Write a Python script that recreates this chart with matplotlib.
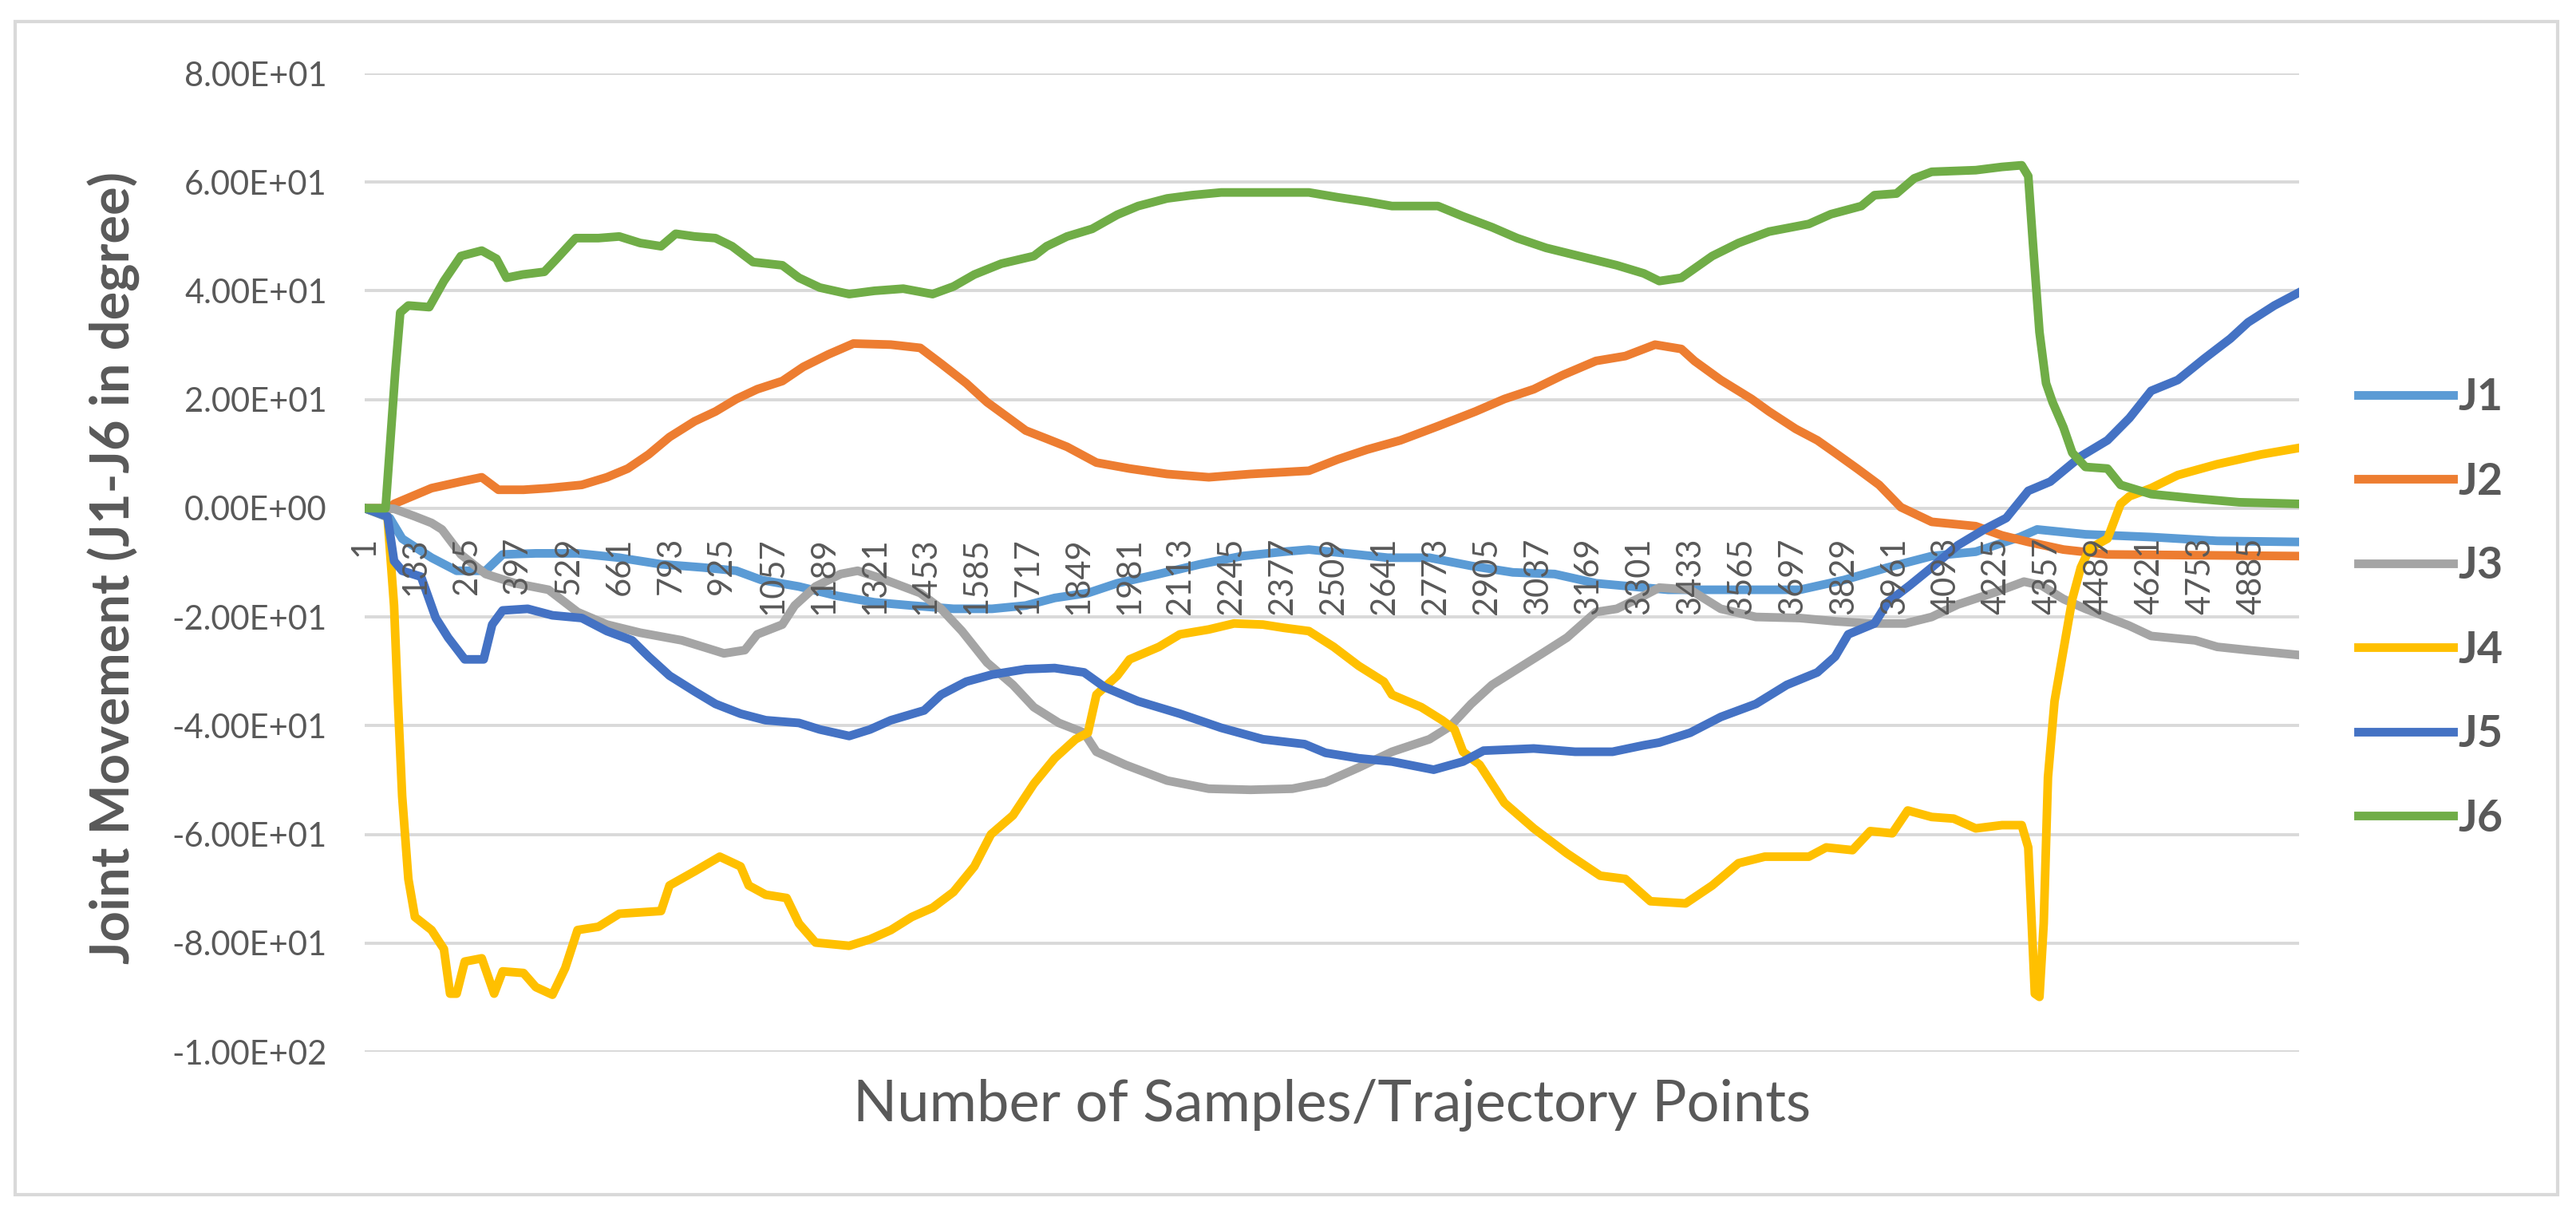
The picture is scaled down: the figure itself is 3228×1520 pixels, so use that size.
import matplotlib
matplotlib.use('Agg')
import matplotlib.pyplot as plt
import matplotlib.patches as patches

plt.rcParams['font.family'] = ['Lato', 'DejaVu Sans']

# Datos (indice de muestra, grados)
n_muestras = 5008
series = ['J1', 'J2', 'J3', 'J4', 'J5', 'J6']
colores = ['#5B9BD5', '#ED7D31', '#A5A5A5', '#FFC000', '#4472C4', '#70AD47']

j1_x = [1, 66, 98, 174, 239, 314, 358, 444, 552, 660, 768, 877, 963, 1028, 1125, 1223, 1320, 1417,
        1525, 1625, 1712, 1787, 1873, 1949, 2057, 2164, 2272, 2380, 2445, 2542, 2649, 2757, 2865,
        2973, 3081, 3188, 3312, 3375, 3489, 3602, 3716, 3830, 3943, 4057, 4171, 4285, 4330, 4455,
        4625, 4796, 5008]
j1_y = [0, -1.8, -5.6, -9.1, -11.5, -11.5, -8.5, -8.3, -8.3, -9.1, -10.3, -10.9, -11.5, -13.2, -14.4,
        -16.1, -17.3, -17.9, -18.5, -18.5, -17.9, -16.5, -15.6, -13.8, -12.1, -10.3, -8.8, -8, -7.6,
        -8.3, -9.1, -9.1, -10.6, -11.8, -12.1, -13.8, -14.6, -15, -15, -15, -15, -13.2, -10.9, -8.8,
        -8, -5.3, -3.9, -4.8, -5.3, -6, -6.2]

j2_x = [1, 66, 77, 174, 250, 304, 347, 412, 477, 563, 628, 682, 736, 790, 855, 909, 963, 1017, 1082,
        1136, 1201, 1266, 1363, 1439, 1493, 1558, 1612, 1668, 1712, 1766, 1819, 1895, 1981, 2078,
        2186, 2294, 2445, 2520, 2596, 2682, 2779, 2876, 2951, 3027, 3102, 3188, 3264, 3341, 3409,
        3443, 3511, 3591, 3636, 3705, 3761, 3807, 3864, 3921, 3977, 4057, 4171, 4239, 4307, 4398,
        4512, 5008]
j2_y = [0, 0, 0.8, 3.7, 4.9, 5.7, 3.4, 3.4, 3.7, 4.3, 5.7, 7.3, 9.9, 13.1, 16, 17.8, 20.1, 21.9, 23.4,
        26, 28.3, 30.3, 30.1, 29.5, 26.6, 23, 19.5, 16.6, 14.3, 12.8, 11.3, 8.4, 7.3, 6.3, 5.7, 6.3,
        6.9, 9, 10.8, 12.5, 15.1, 17.8, 20.1, 21.9, 24.5, 27.1, 28, 30.1, 29.3, 27.1, 23.6, 20.1,
        17.8, 14.6, 12.5, 10.2, 7.3, 4.3, 0.2, -2.5, -3.3, -5, -6.2, -7.6, -8.5, -8.8]

j3_x = [1, 77, 131, 174, 201, 250, 314, 390, 477, 552, 628, 714, 822, 931, 985, 1017, 1082, 1114,
        1168, 1233, 1277, 1342, 1439, 1493, 1547, 1612, 1679, 1733, 1798, 1863, 1895, 1970, 2078,
        2186, 2294, 2402, 2488, 2574, 2660, 2757, 2811, 2865, 2919, 2984, 3049, 3113, 3188, 3242,
        3312, 3352, 3432, 3511, 3602, 3716, 3807, 3898, 3989, 4057, 4125, 4228, 4296, 4341, 4398,
        4455, 4568, 4625, 4739, 4796, 4876, 5008]
j3_y = [0, -0.1, -1.5, -2.7, -3.9, -8.5, -12.1, -13.8, -15, -19.1, -21.4, -22.9, -24.3, -26.7, -26.1,
        -23.2, -21.4, -17.9, -14.4, -12.1, -11.5, -13, -15.6, -18.5, -22.6, -28.4, -32.5, -36.6,
        -39.5, -41.3, -44.8, -47.2, -50.1, -51.6, -51.8, -51.6, -50.4, -47.7, -44.8, -42.5, -40.1,
        -36, -32.5, -29.6, -26.7, -23.8, -19.1, -18.5, -16.1, -14.6, -15, -18.5, -20, -20.2, -20.8,
        -21.2, -21.2, -20, -17.7, -15.3, -13.5, -14.2, -16.7, -18.5, -21.6, -23.5, -24.3, -25.5,
        -26.1, -27]

j4_x = [1, 60, 77, 87, 98, 114, 131, 174, 206, 222, 239, 260, 304, 336, 358, 412, 444, 487, 520, 552,
        606, 660, 768, 790, 855, 920, 974, 995, 1039, 1093, 1125, 1168, 1255, 1309, 1363, 1417, 1471,
        1525, 1579, 1622, 1679, 1733, 1787, 1841, 1873, 1895, 1949, 1981, 2057, 2111, 2186, 2251,
        2326, 2380, 2445, 2509, 2574, 2639, 2660, 2736, 2790, 2822, 2844, 2887, 2951, 3027, 3113,
        3199, 3264, 3329, 3420, 3489, 3557, 3625, 3739, 3784, 3852, 3898, 3955, 3995, 4057, 4114,
        4171, 4239, 4290, 4307, 4324, 4336, 4347, 4358, 4375, 4398, 4421, 4443, 4466, 4512, 4546,
        4569, 4625, 4694, 4796, 4910, 5008]
j4_y = [0, -1.5, -17.9, -35.5, -53, -68.2, -75.2, -77.6, -81.1, -89.3, -89.3, -83.4, -82.8, -89.3,
        -85.2, -85.5, -88.1, -89.5, -84.6, -77.6, -77, -74.6, -74.1, -69.4, -66.8, -64.1, -65.9,
        -69.4, -71.1, -71.7, -76.4, -79.9, -80.5, -79.3, -77.6, -75.2, -73.5, -70.6, -65.9, -60,
        -56.5, -50.7, -46, -42.5, -41.3, -34.3, -30.8, -27.8, -25.5, -23.2, -22.3, -21.2, -21.4, -22,
        -22.6, -25.5, -29, -31.9, -34.3, -36.6, -39, -40.7, -44.8, -47.2, -54.2, -58.9, -63.5,
        -67.6, -68.2, -72.3, -72.7, -69.4, -65.3, -64.1, -64.1, -62.4, -62.9, -59.4, -59.8, -55.6,
        -56.8, -57.1, -58.9, -58.3, -58.3, -62.4, -89.3, -89.9, -76.4, -49.5, -35.5, -26.1, -16.7,
        -10.9, -7.4, -5.6, 0.8, 2.2, 3.7, 6.1, 8.1, 9.9, 11.1]

j5_x = [1, 60, 77, 98, 147, 185, 217, 260, 309, 331, 358, 423, 487, 563, 628, 693, 736, 790, 855, 909,
        974, 1039, 1125, 1179, 1255, 1309, 1363, 1449, 1493, 1558, 1625, 1712, 1787, 1863, 1916, 2003,
        2111, 2218, 2326, 2434, 2488, 2574, 2660, 2768, 2844, 2897, 3027, 3134, 3231, 3312, 3352,
        3432, 3511, 3602, 3682, 3761, 3807, 3841, 3909, 3943, 4000, 4057, 4125, 4193, 4250, 4307,
        4364, 4444, 4512, 4569, 4625, 4694, 4762, 4830, 4876, 4944, 5008]
j5_y = [0, -1.5, -9.7, -11.5, -12.6, -20.2, -23.8, -27.8, -27.8, -21.4, -18.8, -18.5, -19.7, -20.2,
        -22.6, -24.3, -27.3, -30.8, -33.7, -36, -37.8, -39, -39.5, -40.7, -41.9, -40.7, -39, -37.2,
        -34.3, -31.9, -30.6, -29.6, -29.4, -30.2, -32.9, -35.5, -37.8, -40.4, -42.5, -43.4, -45,
        -46, -46.6, -48.1, -46.6, -44.6, -44.2, -44.8, -44.8, -43.6, -43.1, -41.3, -38.4, -36,
        -32.5, -30.2, -27.3, -23.2, -21.2, -17.3, -14.2, -10.9, -6.8, -3.9, -1.8, 3.2, 4.9, 9.6,
        12.5, 16.6, 21.6, 23.6, 27.5, 31.2, 34.2, 37.3, 39.7]

j6_x = [1, 55, 66, 80, 93, 114, 168, 206, 250, 304, 342, 368, 410, 466, 498, 547, 606, 660, 714, 768,
        806, 855, 909, 952, 1006, 1082, 1125, 1179, 1255, 1320, 1395, 1471, 1525, 1579, 1649, 1679,
        1733, 1766, 1819, 1884, 1949, 2003, 2078, 2143, 2218, 2326, 2445, 2520, 2596, 2660, 2779,
        2844, 2919, 2984, 3059, 3156, 3242, 3312, 3352, 3409, 3489, 3557, 3636, 3739, 3796, 3875,
        3909, 3966, 4012, 4057, 4171, 4239, 4290, 4307, 4319, 4336, 4353, 4370, 4398, 4421, 4455,
        4512, 4546, 4625, 4739, 4853, 5008]
j6_y = [0, 0, 11, 25, 36, 37.3, 37, 41.8, 46.4, 47.4, 45.9, 42.4, 43, 43.5, 45.9, 49.7, 49.7, 50, 48.8,
        48.2, 50.5, 50, 49.7, 48.2, 45.3, 44.7, 42.4, 40.6, 39.4, 40, 40.4, 39.4, 40.8, 43, 45.0,
        45.5, 46.4, 48.2, 50, 51.4, 54, 55.6, 57, 57.6, 58.1, 58.1, 58.1, 57.2, 56.4, 55.6, 55.6,
        53.7, 51.7, 49.7, 47.9, 46.2, 44.7, 43.2, 41.8, 42.4, 46.4, 48.8, 50.9, 52.3, 54.1, 55.6,
        57.6, 57.9, 60.7, 61.9, 62.2, 62.8, 63.1, 61.1, 48.8, 32.4, 23, 19.5, 14.9, 10.2, 7.6, 7.3,
        4.3, 2.6, 1.8, 1.1, 0.8]

datos_x = [j1_x, j2_x, j3_x, j4_x, j5_x, j6_x]
datos_y = [j1_y, j2_y, j3_y, j4_y, j5_y, j6_y]

y_ticks = [80, 60, 40, 20, 0, -20, -40, -60, -80, -100]
x_ticks = list(range(1, 4886, 132))

gris_texto = '#595959'
gris_linea = '#D9D9D9'

###############################################################################

fig = plt.figure(figsize=(16.14, 7.6), dpi=200)
ax = fig.add_axes([457 / 3228, 1 - 1318 / 1520, 2424 / 3228, 1226 / 1520])

# Eje horizontal cruzando en cero, como en Excel (antes de poner los ticks)
ax.spines['bottom'].set_position(('data', 0))
for s in ax.spines.values():
    s.set_visible(False)

for nombre, c, xs, ys in zip(series, colores, datos_x, datos_y):
    ax.plot(xs, ys, color=c, lw=3.9, label=nombre, solid_joinstyle='round', zorder=2)

ax.set_xlim(1, n_muestras)
ax.set_ylim(-100, 80)
ax.set_yticks(y_ticks)
ax.set_yticklabels(['{:.2E}'.format(v) for v in y_ticks])
ax.set_xticks(x_ticks)
ax.set_xticklabels([str(v) for v in x_ticks])

ax.tick_params(axis='both', length=0, colors=gris_texto, labelsize=15)
ax.tick_params(axis='x', pad=13, labelrotation=90)
ax.tick_params(axis='y', pad=17)
ax.yaxis.grid(True, color=gris_linea, lw=1.4)

# rejilla por debajo de las lineas, etiquetas del eje x por encima
ax.yaxis.set_zorder(0.5)
ax.xaxis.set_zorder(3)

fig.text(143 / 3228, 1 - 711 / 1520, 'Joint Movement (J1-J6 in degree)', rotation=90,
         ha='center', va='center', fontsize=24, fontweight='bold', color=gris_texto)
fig.text(1669 / 3228, 1 - 1405 / 1520, 'Number of Samples/Trajectory Points',
         ha='center', va='baseline', fontsize=26, color=gris_texto)

leg = fig.legend(loc='center left', bbox_to_anchor=(2955 / 3228, 1 - 762 / 1520),
                 frameon=False, fontsize=20, handlelength=2.15, handletextpad=0.1,
                 labelspacing=1.0, borderpad=0, borderaxespad=0)
for t in leg.get_texts():
    t.set_color(gris_texto)
    t.set_fontweight('bold')

# Marco exterior del grafico
fig.patches.append(patches.Rectangle((19 / 3228, 1 - 1497 / 1520), 3186 / 3228, 1470 / 1520,
                                     transform=fig.transFigure, fill=False,
                                     edgecolor=gris_linea, lw=1.5))

fig.savefig('out.png', dpi=200, facecolor='white')
